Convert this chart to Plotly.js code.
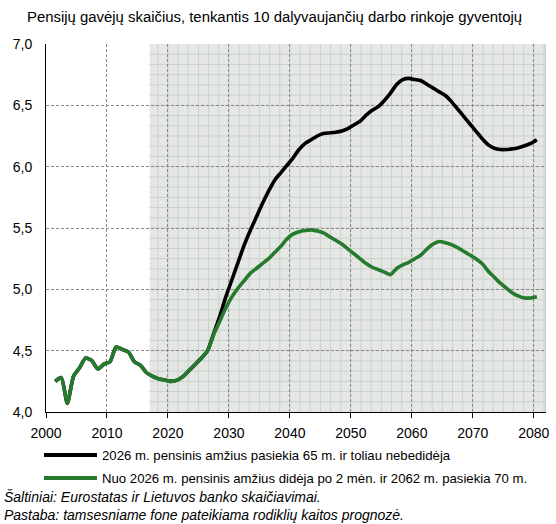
<!DOCTYPE html>
<html>
<head>
<meta charset="utf-8">
<script src="https://cdn.plot.ly/plotly-3.0.1.min.js"></script>
<style>
  html, body { margin: 0; padding: 0; background: #fff; }
  #chart { width: 556px; height: 524px; }
</style>
</head>
<body>
<div id="chart"></div>
<script>
/* -------------------------------
   Data
   ------------------------------- */

const TITLE = "Pensijų gavėjų skaičius, tenkantis 10 dalyvaujančių darbo rinkoje gyventojų";

const SERIES_NAMES = [
  "2026 m. pensinis amžius pasiekia 65 m. ir toliau nebedidėja",
  "Nuo 2026 m. pensinis amžius didėja po 2 mėn. ir 2062 m. pasiekia 70 m."
];

const NOTES = [
  "Šaltiniai: Eurostatas ir Lietuvos banko skaičiavimai.",
  "Pastaba: tamsesniame fone pateikiama rodiklių kaitos prognozė."
];

// actual + common part, 2001-2026
const HIST_YEARS = [2001, 2002, 2003, 2004, 2005, 2006, 2007, 2008, 2009, 2010,
  2011, 2012, 2013, 2014, 2015, 2016, 2017, 2018, 2019, 2020,
  2021, 2022, 2023, 2024, 2025, 2026];
const HIST = [4.25, 4.28, 4.07, 4.29, 4.36, 4.44, 4.42, 4.35, 4.39, 4.41,
  4.53, 4.51, 4.49, 4.41, 4.38, 4.32, 4.29, 4.27, 4.26, 4.25,
  4.26, 4.29, 4.34, 4.39, 4.44, 4.50];

// projections, 2027-2080
const PROJ_YEARS = [2027, 2028, 2029, 2030, 2031, 2032, 2033, 2034, 2035, 2036,
  2037, 2038, 2039, 2040, 2041, 2042, 2043, 2044, 2045, 2046,
  2047, 2048, 2049, 2050, 2051, 2052, 2053, 2054, 2055, 2056,
  2057, 2058, 2059, 2060, 2061, 2062, 2063, 2064, 2065, 2066,
  2067, 2068, 2069, 2070, 2071, 2072, 2073, 2074, 2075, 2076,
  2077, 2078, 2079, 2080];

const AGE65 = [4.64, 4.78, 4.94, 5.08, 5.22, 5.36, 5.48, 5.59, 5.70, 5.80,
  5.89, 5.95, 6.01, 6.07, 6.14, 6.19, 6.22, 6.25, 6.27, 6.275,
  6.28, 6.29, 6.31, 6.34, 6.37, 6.42, 6.46, 6.49, 6.54, 6.60,
  6.67, 6.71, 6.72, 6.71, 6.70, 6.67, 6.64, 6.61, 6.58, 6.53,
  6.47, 6.41, 6.35, 6.29, 6.23, 6.18, 6.15, 6.14, 6.14, 6.145,
  6.155, 6.17, 6.19, 6.22];

const AGE70 = [4.63, 4.74, 4.85, 4.94, 5.01, 5.07, 5.13, 5.17, 5.21, 5.25,
  5.30, 5.35, 5.41, 5.45, 5.47, 5.48, 5.485, 5.475, 5.46, 5.43,
  5.40, 5.37, 5.33, 5.29, 5.25, 5.21, 5.18, 5.16, 5.14, 5.12,
  5.17, 5.20, 5.22, 5.25, 5.28, 5.33, 5.37, 5.39, 5.38, 5.365,
  5.34, 5.31, 5.28, 5.25, 5.21, 5.15, 5.10, 5.05, 5.01, 4.97,
  4.945, 4.93, 4.93, 4.94];

const COLORS = ["#000000", "#267a2d"];

/* -------------------------------
   Layout constants
   ------------------------------- */

const FORECAST_START = 2017;
const X_RANGE = [2000, 2082];
const Y_RANGE = [4, 7];
const MARGIN = { l: 46, r: 10, t: 44, b: 112 };
const W = 556, H = 524;
const PLOT_W = W - MARGIN.l - MARGIN.r;
const PLOT_H = H - MARGIN.t - MARGIN.b;

// pixel -> paper helpers for the text below the plot
const px2x = px => (px - MARGIN.l) / PLOT_W;
const py2y = py => (H - MARGIN.b - py) / PLOT_H;

const FONT = "Liberation Sans, Arial, sans-serif";

/* -------------------------------
   Traces
   ------------------------------- */

const MID = 0.5; // points sit in the middle of each year
const xs = arr => arr.map(y => y + MID);

const traces = [
  {
    x: xs(HIST_YEARS.concat(PROJ_YEARS)),
    y: HIST.concat(AGE65),
    name: SERIES_NAMES[0],
    mode: "lines",
    line: { color: COLORS[0], width: 3.6, shape: "spline", smoothing: 0.6 },
    showlegend: false
  },
  {
    x: xs(HIST_YEARS.concat(PROJ_YEARS)),
    y: HIST.concat(AGE70),
    name: SERIES_NAMES[1],
    mode: "lines",
    line: { color: COLORS[1], width: 3.6, shape: "spline", smoothing: 0.6 },
    showlegend: false
  }
];

/* -------------------------------
   Shapes: forecast background with fine grid, custom legend lines
   ------------------------------- */

const shapes = [{
  type: "rect", layer: "below", xref: "x", yref: "y",
  x0: FORECAST_START, x1: X_RANGE[1], y0: Y_RANGE[0], y1: Y_RANGE[1],
  fillcolor: "#e4e7e4", line: { width: 0 }
}];

const MINOR_X = 10 / 6, MINOR_Y = 0.5 / 6;
const minorCol = "#cbd1cd";
for (let k = -2; k * MINOR_X + 2020 <= X_RANGE[1]; k++) {
  const xv = 2020 + k * MINOR_X;
  if (xv < FORECAST_START) continue;
  shapes.push({ type: "line", layer: "below", xref: "x", yref: "y",
    x0: xv, x1: xv, y0: Y_RANGE[0], y1: Y_RANGE[1], line: { color: minorCol, width: 1 } });
}
for (let k = 1; k < 36; k++) {
  const yv = Y_RANGE[0] + k * MINOR_Y;
  shapes.push({ type: "line", layer: "below", xref: "x", yref: "y",
    x0: FORECAST_START, x1: X_RANGE[1], y0: yv, y1: yv, line: { color: minorCol, width: 1 } });
}
// right edge
shapes.push({ type: "line", layer: "below", xref: "x", yref: "y",
  x0: X_RANGE[1], x1: X_RANGE[1], y0: Y_RANGE[0], y1: Y_RANGE[1], line: { color: "#a9aeab", width: 1 } });

const LEGEND_ROWS = [455, 478];
const annotations = [];
SERIES_NAMES.forEach((name, i) => {
  shapes.push({ type: "line", xref: "paper", yref: "paper",
    x0: px2x(44), x1: px2x(97), y0: py2y(LEGEND_ROWS[i]), y1: py2y(LEGEND_ROWS[i]),
    line: { color: COLORS[i], width: 4 } });
  annotations.push({ xref: "paper", yref: "paper", x: px2x(100), y: py2y(LEGEND_ROWS[i]),
    xanchor: "left", yanchor: "middle", showarrow: false, text: name,
    font: { family: FONT, size: 13.2, color: "#000" } });
});

const NOTE_ROWS = [497, 515];
NOTES.forEach((t, i) => {
  annotations.push({ xref: "paper", yref: "paper", x: px2x(2), y: py2y(NOTE_ROWS[i]),
    xanchor: "left", yanchor: "middle", showarrow: false, text: "<i>" + t + "</i>",
    font: { family: FONT, size: 14, color: "#000" } });
});

/* -------------------------------
   Layout
   ------------------------------- */

const layout = {
  width: W, height: H,
  margin: MARGIN,
  paper_bgcolor: "#fff",
  plot_bgcolor: "#fff",
  separators: ", ",
  font: { family: FONT, size: 13, color: "#000" },
  title: {
    text: TITLE, xref: "container", yref: "container",
    x: 27 / W, xanchor: "left", y: 1 - 17 / H, yanchor: "middle",
    font: { family: FONT, size: 14.9, color: "#000" }
  },
  xaxis: {
    range: X_RANGE, tick0: 2000, dtick: 10,
    showline: true, linecolor: "#000", linewidth: 1,
    ticks: "outside", ticklen: 5, tickcolor: "#000",
    showgrid: true, gridcolor: "#8a8a8a", griddash: "3px,2px", gridwidth: 1,
    zeroline: false, ticklabelstandoff: 3,
    tickfont: { family: FONT, size: 14, color: "#000" }
  },
  yaxis: {
    range: Y_RANGE, dtick: 0.5, tickformat: ".1f",
    showline: true, linecolor: "#000", linewidth: 1,
    ticks: "", showgrid: true, gridcolor: "#8a8a8a", griddash: "3px,2px", gridwidth: 1,
    zeroline: false, ticklabelstandoff: 10,
    tickfont: { family: FONT, size: 14, color: "#000" }
  },
  shapes: shapes,
  annotations: annotations,
  showlegend: false
};

Plotly.newPlot("chart", traces, layout, { staticPlot: true, displayModeBar: false });
</script>
</body>
</html>
